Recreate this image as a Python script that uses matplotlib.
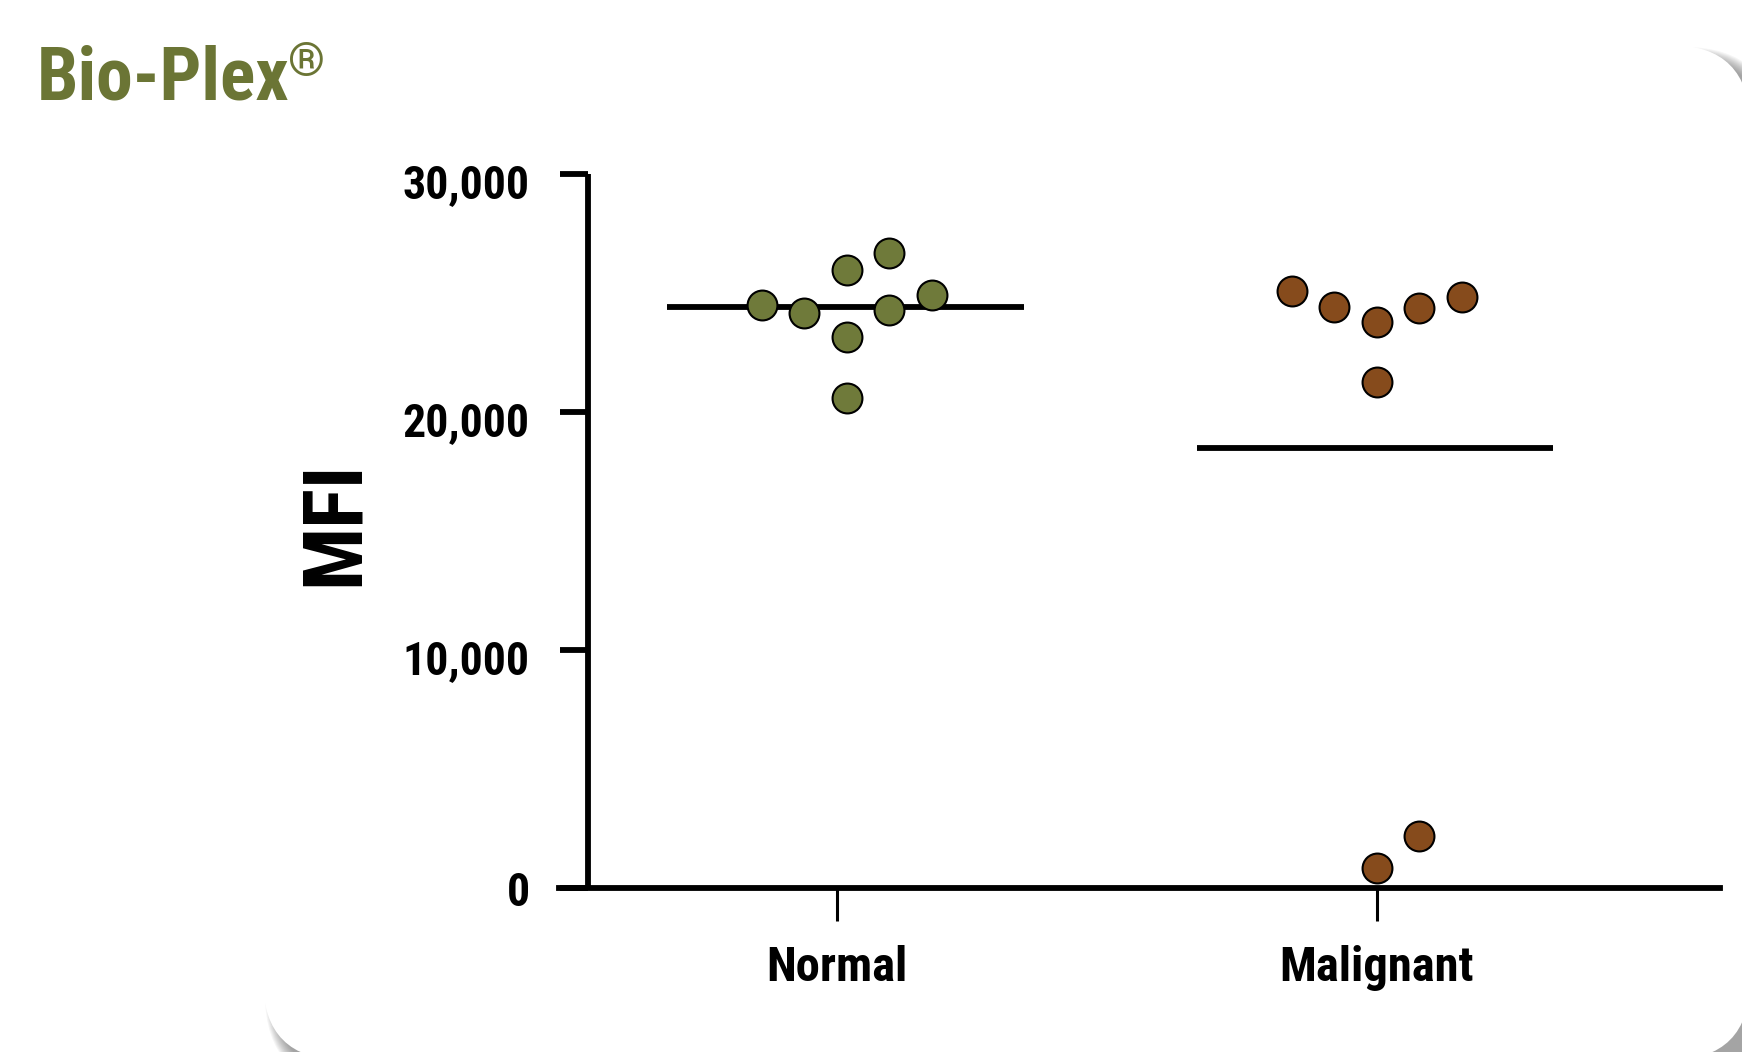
import numpy as np
from matplotlib import pyplot as plt
from matplotlib.patches import FancyBboxPatch
from matplotlib.transforms import IdentityTransform, ScaledTranslation

plt.rcParams['font.family'] = ['Roboto Condensed', 'Liberation Sans Narrow', 'DejaVu Sans']
plt.rcParams['font.stretch'] = 'condensed'
plt.rcParams['font.weight'] = 'bold'

# data
groups = ["Normal", "Malignant"]
normal_mfi = [24500, 24150, 25950, 26700, 24900, 24300, 23150, 20600]
malignant_mfi = [25100, 24400, 23800, 24350, 24850, 21250, 850, 2200]
normal_mean = 24400
malignant_mean = 18500
yticks = [0, 10000, 20000, 30000]
ytick_labels = ["0", "10,000", "20,000", "30,000"]

# scatter columns (dot-plot layout)
normal_cols = [-2, -1, 0, 1, 2, 1, 0, 0]
malignant_cols = [-2, -1, 0, 1, 2, 0, 0, 1]

green = "#6F7A3A"
brown = "#864B1C"
W, H = 1742, 1052

fig = plt.figure(figsize=(W / 100, H / 100), dpi=100)

# rounded white card, runs off the right and bottom edges, soft shadow
x0, y0, x1, y1 = 263, -8, 1750, H - 45
for i in range(12, 0, -1):
    sh = FancyBboxPatch((x0 - i + 14, y0 - i - 14), (x1 - x0) + 2 * i, (y1 - y0) + 2 * i,
                        boxstyle="round,pad=0,rounding_size=%d" % (80 + i),
                        transform=IdentityTransform(), facecolor="#555555",
                        edgecolor="none", alpha=0.06, zorder=-3)
    fig.patches.append(sh)
card = FancyBboxPatch((x0, y0), x1 - x0, y1 - y0, boxstyle="round,pad=0,rounding_size=80",
                      transform=IdentityTransform(), facecolor="white", edgecolor="none", zorder=-2)
fig.patches.append(card)

# axes placed so that x=1 / x=2 land on the group ticks
px_unit = 540.0
x_left_px, x_right_px = 559, 1720
ax = fig.add_axes([x_left_px / W, 1 - 888 / H, (x_right_px - x_left_px) / W, (888 - 174) / H])
ax.patch.set_visible(False)
ax.set_xlim(1 - (837 - x_left_px) / px_unit, 1 + (x_right_px - 837) / px_unit)
ax.set_ylim(0, 30000)

for side in ["top", "right"]:
    ax.spines[side].set_visible(False)
ax.spines["left"].set_position(("data", 1 - (837 - 588) / px_unit))
ax.spines["left"].set_linewidth(4.2)
ax.spines["bottom"].set_linewidth(4.2)
ax.spines["left"].set_capstyle("butt")

step = 42.5 / px_unit
ax.plot(1.0185 + np.array(normal_cols) * step, normal_mfi, "o", ms=21.5, mfc=green,
        mec="black", mew=1.5, clip_on=False, zorder=4)
ax.plot(2.0 + np.array(malignant_cols) * step, malignant_mfi, "o", ms=21.5, mfc=brown,
        mec="black", mew=1.5, clip_on=False, zorder=4)

ax.hlines(normal_mean, 0.685, 1.346, color="black", lw=4.2, zorder=3)
ax.hlines(malignant_mean, 1.667, 2.326, color="black", lw=4.2, zorder=3)

ax.set_xticks([1, 2])
ax.set_xticklabels(groups, fontsize=35, fontweight="bold")
ax.tick_params(axis="x", direction="out", length=24, width=2.2, pad=17)
ax.set_yticks(yticks)
ax.set_yticklabels(ytick_labels, fontsize=33, fontweight="bold")
ax.tick_params(axis="y", direction="out", length=20, width=4.2, pad=22)
# the non-zero labels sit a little below their ticks in the original
shift = ScaledTranslation(0, -7 / 100, fig.dpi_scale_trans)
for lab in ax.get_yticklabels():
    if lab.get_text() != "0":
        lab.set_transform(lab.get_transform() + shift)

fig.text(335 / W, 1 - 523 / H, "MFI", rotation=90, fontsize=60, fontweight="bold",
         ha="center", va="center")
title = fig.text(37 / W, 1 - 100 / H, "Bio-Plex", fontsize=53, fontweight="bold",
                 color="#6B7535", ha="left", va="baseline")
# registered sign as a small superscript right after the title
bb = title.get_window_extent(renderer=fig.canvas.get_renderer())
fig.text((bb.x1 - 2) / W, 1 - 76 / H, "\u00ae", fontsize=34, fontweight="bold",
         color="#6B7535", ha="left", va="baseline")

plt.savefig("out.png", dpi=100)
